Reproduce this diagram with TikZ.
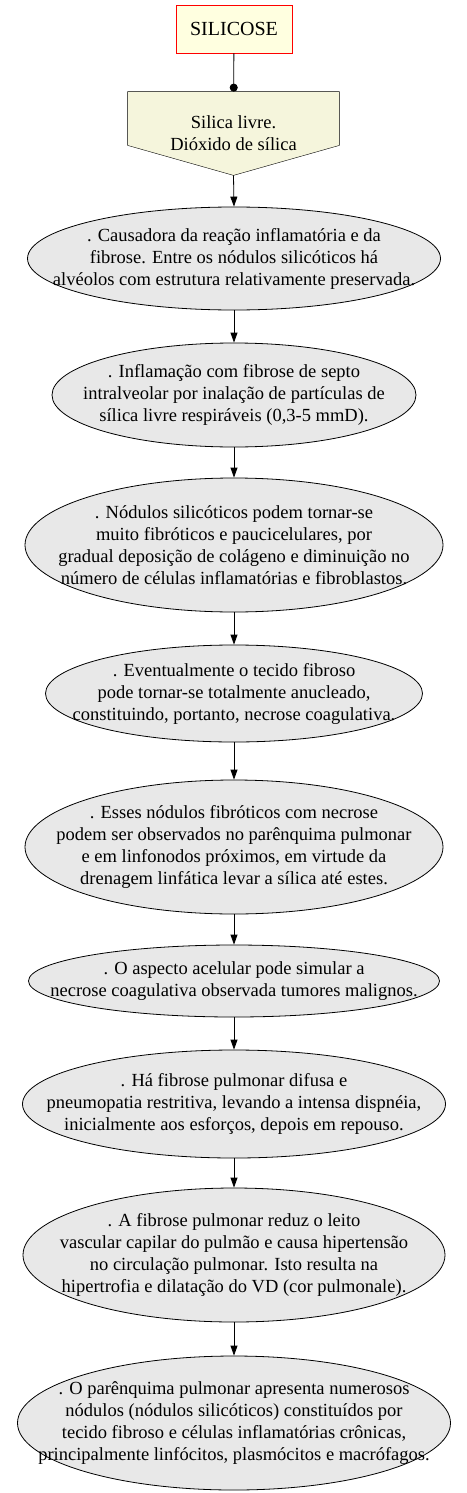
\documentclass[tikz,border=0pt]{standalone}
\usepackage{fontspec}
\setmainfont{Liberation Serif}
\usetikzlibrary{arrows.meta,positioning,shapes.geometric,backgrounds}
\definecolor{titlefill}{HTML}{FFFFE0}
\definecolor{sourcefill}{HTML}{F5F5DC}
\definecolor{stepfill}{HTML}{E8E8E8}
\newcommand{\diagfont}{\fontsize{18.5}{22}\selectfont}

\begin{document}
\begin{tikzpicture}[
  x=1pt,y=-1pt,
  line width=0.8pt,
  >={Triangle[length=10pt,width=7pt]},
  %% title: plain rectangle, red frame
  titlebox/.style={draw=red,fill=titlefill,minimum width=116pt,minimum height=48pt,
                   inner sep=0pt,font=\fontsize{20}{22}\selectfont},
  %% source: inverted house, shape drawn behind
  sourcebox/.style={minimum width=211pt,minimum height=83pt,inner sep=0pt,
                    align=center,font=\diagfont},
  %% steps: grey ellipses, text set as a centred label
  stepell/.style={draw,ellipse,fill=stepfill,inner sep=0pt},
  steptext/.style={align=center,inner sep=0pt,font=\diagfont},
  flow/.style={->}
]
\useasboundingbox (0,0) rectangle (466,1493);

%% ---- TITLE AND SOURCE ----
\node[titlebox]  (title)  at (234,29)    {SILICOSE};
\node[sourcebox] (silica) at (233.5,133.5) {Silica livre.\\Dióxido de sílica};
\begin{scope}[on background layer]
  \draw[fill=sourcefill] (silica.north west) -- (silica.north east)
    -- ([yshift=30pt]silica.south east) -- (silica.south)
    -- ([yshift=30pt]silica.south west) -- cycle;
\end{scope}

%% ---- STEPS ----
\node[stepell,minimum width=413pt,minimum height=103pt,
  label={[steptext]center:{. Causadora da reação inflamatória e da\\fibrose. Entre os nódulos silicóticos há\\alvéolos com estrutura relativamente preservada.}}]
  (cause) at (234,258.5) {};
\node[stepell,minimum width=364pt,minimum height=104pt,
  label={[steptext]center:{. Inflamação com fibrose de septo\\intralveolar por inalação de partículas de\\sílica livre respiráveis (0,3-5 mmD).}}]
  (inflam) at (234,395) {};
\node[stepell,minimum width=418pt,minimum height=134pt,
  label={[steptext]center:{. Nódulos silicóticos podem tornar-se\\muito fibróticos e paucicelulares, por\\gradual deposição de colágeno e diminuição no\\número de células inflamatórias e fibroblastos.}}]
  (nodules) at (234,545) {};
\node[stepell,minimum width=377pt,minimum height=97pt,
  label={[steptext]center:{. Eventualmente o tecido fibroso\\pode tornar-se totalmente anucleado,\\constituindo, portanto, necrose coagulativa.}}]
  (necrosis) at (234,693.5) {};
\node[stepell,minimum width=418pt,minimum height=134pt,
  label={[steptext]center:{. Esses nódulos fibróticos com necrose\\podem ser observados no parênquima pulmonar\\e em linfonodos próximos, em virtude da\\drenagem linfática levar a sílica até estes.}}]
  (lymph) at (234,847) {};
\node[stepell,minimum width=411pt,minimum height=72pt,
  label={[steptext]center:{. O aspecto acelular pode simular a\\necrose coagulativa observada tumores malignos.}}]
  (acell) at (234,981) {};
\node[stepell,minimum width=423pt,minimum height=108pt,
  label={[steptext]center:{. Há fibrose pulmonar difusa e\\pneumopatia restritiva, levando a intensa dispnéia,\\inicialmente aos esforços, depois em repouso.}}]
  (diffuse) at (234,1104) {};
\node[stepell,minimum width=422pt,minimum height=134pt,
  label={[steptext]center:{. A fibrose pulmonar reduz o leito\\vascular capilar do pulmão e causa hipertensão\\no circulação pulmonar. Isto resulta na\\hipertrofia e dilatação do VD (cor pulmonale).}}]
  (hypert) at (234,1255) {};
\node[stepell,minimum width=433pt,minimum height=134pt,
  label={[steptext]center:{. O parênquima pulmonar apresenta numerosos\\nódulos (nódulos silicóticos) constituídos por\\tecido fibroso e células inflamatórias crônicas,\\principalmente linfócitos, plasmócitos e macrófagos.}}]
  (paren) at (234,1423) {};

%% ---- CONNECTORS ----
\draw[-{Circle[length=8pt]}] (title) -- (silica);
\draw[flow] (silica.south)   -- (cause.north);
\draw[flow] (cause.south)    -- (inflam.north);
\draw[flow] (inflam.south)   -- (nodules.north);
\draw[flow] (nodules.south)  -- (necrosis.north);
\draw[flow] (necrosis.south) -- (lymph.north);
\draw[flow] (lymph.south)    -- (acell.north);
\draw[flow] (acell.south)    -- (diffuse.north);
\draw[flow] (diffuse.south)  -- (hypert.north);
\draw[flow] (hypert.south)   -- (paren.north);

\end{tikzpicture}
\end{document}
